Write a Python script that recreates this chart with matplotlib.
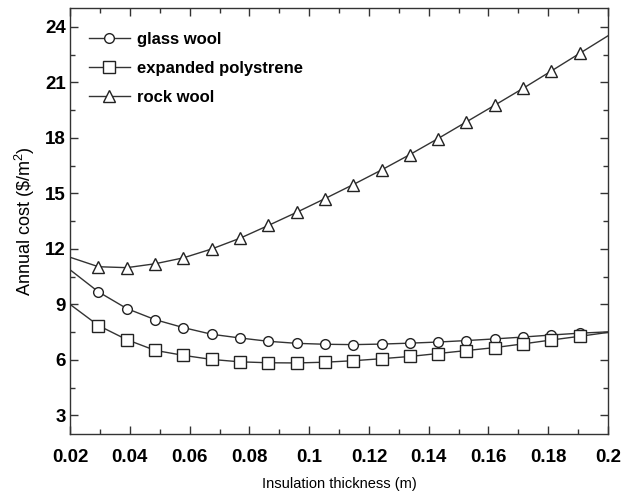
import matplotlib
matplotlib.use("Agg")
import matplotlib.pyplot as plt
import numpy as np
from matplotlib.ticker import MultipleLocator

plt.rcParams['font.family'] = ['Liberation Sans', 'DejaVu Sans']
plt.rcParams['mathtext.fontset'] = 'custom'
plt.rcParams['mathtext.rm'] = 'Liberation Sans'

# data
thickness = np.linspace(0.02, 0.2, 20)
glass_wool = [10.87, 9.68, 8.78, 8.18, 7.75, 7.39, 7.19, 7.01, 6.90, 6.85,
              6.83, 6.86, 6.91, 6.97, 7.05, 7.14, 7.24, 7.35, 7.45, 7.52]
polystyrene = [9.00, 7.86, 7.10, 6.52, 6.25, 6.03, 5.90, 5.85, 5.84, 5.88,
               5.96, 6.07, 6.19, 6.35, 6.51, 6.67, 6.87, 7.08, 7.28, 7.49]
rock_wool = [11.55, 11.04, 10.99, 11.20, 11.52, 12.00, 12.58, 13.27, 13.98, 14.72,
             15.48, 16.27, 17.10, 17.97, 18.87, 19.77, 20.68, 21.62, 22.57, 23.52]
labels = ['glass wool', 'expanded polystrene', 'rock wool']
markers = ['o', 's', '^']
msizes = [7, 8, 8.5]
xticks = [0.02, 0.04, 0.06, 0.08, 0.1, 0.12, 0.14, 0.16, 0.18, 0.2]
xticklabels = ['0.02', '0.04', '0.06', '0.08', '0.1', '0.12', '0.14', '0.16', '0.18', '0.2']
yticks = [3, 6, 9, 12, 15, 18, 21, 24]

fig = plt.figure(figsize=(6.21, 4.96), dpi=100)
ax = fig.add_axes([0.113, 0.125, 0.866, 0.858])

lc = '#333333'
for ys, lab, m, ms in zip([glass_wool, polystyrene, rock_wool], labels, markers, msizes):
    ax.plot(thickness, ys, color=lc, lw=1.0, marker=m, ms=ms, mfc='white',
            mec='#222222', mew=1.0, markevery=list(range(1, 19)), label=lab)

ax.set_xlim(0.02, 0.2)
ax.set_ylim(2, 25)
ax.set_xticks(xticks)
ax.set_xticklabels(xticklabels)
ax.xaxis.set_minor_locator(MultipleLocator(0.01))
ax.set_yticks(yticks)
ax.yaxis.set_minor_locator(MultipleLocator(1.5))

ax.tick_params(which='both', direction='in', top=True, right=True, color=lc)
ax.tick_params(which='major', length=6, width=1.0, labelsize=13.5)
ax.tick_params(axis='x', which='major', pad=11)
ax.tick_params(axis='y', which='major', pad=3)
ax.tick_params(which='minor', length=3.5, width=1.0)
for lbl in ax.get_xticklabels() + ax.get_yticklabels():
    lbl.set_fontweight('bold')
for s in ax.spines.values():
    s.set_color(lc)
    s.set_linewidth(1.0)

ax.set_xlabel('Insulation thickness (m)', fontsize=10.5, labelpad=8)
ax.set_ylabel('Annual cost (\\$/m$^2$)', fontsize=13, labelpad=6)

leg = ax.legend(loc='upper left', bbox_to_anchor=(-0.009, 1.0), frameon=False,
                fontsize=12, handlelength=2.5, handletextpad=0.4,
                labelspacing=0.85, borderaxespad=1.0)
for t in leg.get_texts():
    t.set_fontweight('bold')

fig.savefig('out.png', dpi=100)
